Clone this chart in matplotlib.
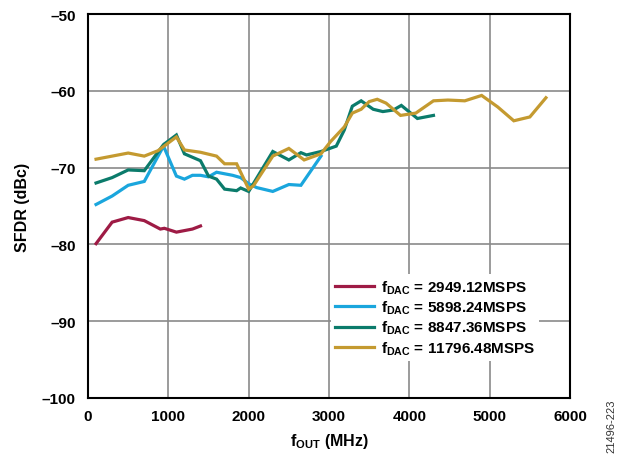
import matplotlib
matplotlib.use("Agg")
import matplotlib.pyplot as plt

plt.rcParams['font.family'] = ['Liberation Sans', 'DejaVu Sans']
plt.rcParams['font.weight'] = 'bold'
plt.rcParams['mathtext.fontset'] = 'custom'
plt.rcParams['mathtext.rm'] = 'Liberation Sans:bold'
plt.rcParams['mathtext.bf'] = 'Liberation Sans:bold'
plt.rcParams['mathtext.it'] = 'Liberation Sans:bold'

# Data
red_x = [100, 300, 500, 700, 900, 950, 1100, 1300, 1400]
red_y = [-79.9, -77.1, -76.5, -76.9, -78.0, -77.9, -78.4, -78.0, -77.6]

blue_x = [100, 300, 500, 700, 940, 1100, 1200, 1300, 1400, 1500, 1600, 1800, 1900,
          2000, 2100, 2300, 2500, 2650, 2900]
blue_y = [-74.8, -73.7, -72.3, -71.8, -67.2, -71.1, -71.5, -71.0, -71.0, -71.2, -70.6,
          -71.0, -71.3, -72.1, -72.6, -73.1, -72.2, -72.3, -68.5]

teal_x = [100, 300, 500, 700, 940, 1100, 1200, 1400, 1500, 1600, 1700, 1850, 1900,
          2000, 2300, 2500, 2650, 2720, 2900, 3090, 3190, 3290, 3400, 3550, 3670,
          3800, 3900, 4100, 4300]
teal_y = [-72.0, -71.3, -70.3, -70.4, -67.0, -65.75, -68.2, -69.1, -71.1, -71.5, -72.8,
          -73.0, -72.65, -73.1, -67.9, -69.0, -68.05, -68.35, -67.9, -67.2, -65.1,
          -62.0, -61.3, -62.4, -62.7, -62.5, -61.9, -63.6, -63.2]

gold_x = [100, 300, 500, 700, 870, 1100, 1200, 1400, 1600, 1700, 1850, 2000, 2060,
          2300, 2500, 2690, 2900, 3020, 3190, 3290, 3400, 3500, 3600, 3710, 3890,
          4080, 4300, 4480, 4690, 4900, 5100, 5300, 5500, 5700]
gold_y = [-68.9, -68.5, -68.1, -68.5, -67.8, -66.0, -67.7, -68.0, -68.5, -69.5, -69.5,
          -72.8, -72.35, -68.5, -67.5, -69.0, -68.2, -66.6, -64.7, -62.9, -62.4,
          -61.4, -61.1, -61.6, -63.2, -62.9, -61.3, -61.2, -61.3, -60.6, -62.1,
          -63.9, -63.4, -60.9]

series_labels = ['2949.12MSPS', '5898.24MSPS', '8847.36MSPS', '11796.48MSPS']
colors = ['#9E1B45', '#1AA6DD', '#0B7B6B', '#C49A30']

xticks = [0, 1000, 2000, 3000, 4000, 5000, 6000]
yticks = [-100, -90, -80, -70, -60, -50]
yticklabels = ['–100', '–90', '–80', '–70', '–60', '–50']

fig = plt.figure(figsize=(6.26, 4.56), dpi=100)
ax = fig.add_axes([0.1406, 0.125, 0.77, 0.842])

for (xs, ys), c, lab in zip([(red_x, red_y), (blue_x, blue_y), (teal_x, teal_y), (gold_x, gold_y)],
                            colors, series_labels):
    ax.plot(xs, ys, color=c, lw=2.3, solid_joinstyle='miter',
            label=r'$\mathregular{f_{DAC}}$ = ' + lab)

ax.set_xlim(0, 6000)
ax.set_ylim(-100, -50)
ax.set_xticks(xticks)
ax.set_xticklabels([str(v) for v in xticks])
ax.set_yticks(yticks)
ax.set_yticklabels(yticklabels)
ax.tick_params(length=0, labelsize=11)
ax.tick_params(axis='x', pad=8)
ax.tick_params(axis='y', pad=9)
ax.grid(True, color='#8a8a8a', lw=1.2)
ax.set_axisbelow(True)
for s in ax.spines.values():
    s.set_linewidth(1.5)
    s.set_color('black')

ax.set_xlabel(r'$\mathregular{f_{OUT}}$ (MHz)', fontsize=11.5, fontweight='bold', labelpad=6)
ax.set_ylabel('SFDR (dBc)', fontsize=11.5, fontweight='bold', labelpad=8)

leg = ax.legend(loc='upper left', bbox_to_anchor=(0.504, 0.322), frameon=True,
                fontsize=11, handlelength=2.6, handletextpad=0.4, labelspacing=0.2,
                borderpad=0.25, borderaxespad=0, fancybox=False)
leg.get_frame().set_edgecolor('none')
leg.get_frame().set_facecolor('white')
leg.get_frame().set_alpha(1)

fig.text(0.976, 0.006, '21496-223', rotation=90, fontsize=8, fontweight='normal',
         color='#333333', ha='center', va='bottom')

fig.savefig('out.png', dpi=100)
